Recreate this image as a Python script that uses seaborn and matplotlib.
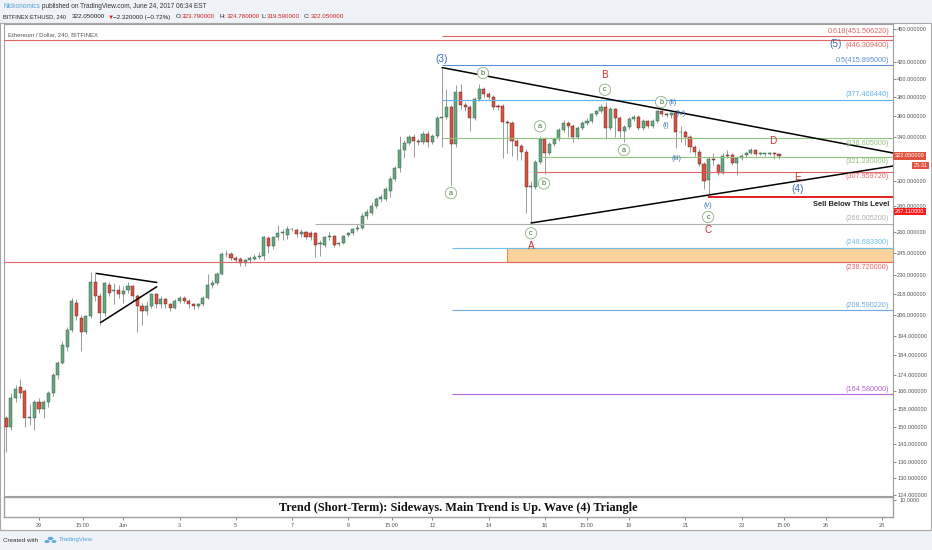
import numpy as np
import pandas as pd
import matplotlib
matplotlib.use("Agg")
import matplotlib.pyplot as plt
from matplotlib.patches import Rectangle, Circle
from matplotlib.ticker import NullLocator
import seaborn as sns

W, H = 932, 550

# --- 4h candles, BITFINEX ETHUSD, first bar 27 May 2017 20:00 ---
first_bar = "2017-05-27 20:00"
opens = [154, 150, 163, 168, 166, 154, 154, 161, 158, 161, 165, 174, 180, 188, 197, 213, 204, 196, 205, 226,
         217, 207, 224, 220, 221, 218, 221, 223, 217, 211, 208, 211, 218, 212, 215, 212, 210, 214, 216, 214,
         212, 211, 212, 216, 224, 225, 231, 244, 244, 241.5, 241, 238.5, 240, 241, 242.5, 243, 255.5, 250, 256, 259,
         258, 262, 261.5, 258.5, 260, 259, 259, 251.5, 250.5, 256, 257, 251, 252, 257.5, 259, 262, 263, 272, 274, 280,
         285, 285, 292, 302, 311, 327, 334, 340, 336, 335, 343, 335, 341, 358, 359, 370, 333, 385, 372, 370,
         358, 378, 389, 383, 380, 371, 371, 354, 353, 336, 331, 326, 295, 295, 317, 338, 325, 333, 338, 346,
         353, 350, 340, 348, 353, 355, 362, 365, 370, 348, 368, 358, 345, 349, 357, 359, 348, 355, 350, 355,
         365, 362, 361, 363, 344, 344, 340, 330, 326, 315, 301, 319, 314, 307, 323, 323, 316, 320, 323, 325,
         327, 324, 324, 324, 325, 323.79]
highs = [155, 165, 169, 172, 167, 160, 162, 163, 162, 166, 175, 181, 191, 199, 216, 215, 206, 206, 232, 232,
         219, 226, 226, 225, 224, 223, 226, 224, 218, 213, 214, 219, 219, 217, 216, 213, 215, 217, 217, 215,
         213, 213, 217, 231, 227, 232, 246, 247, 246, 243, 242, 241, 243, 244, 246, 257, 257, 257, 265, 262,
         264, 263, 263, 262, 261, 261, 260, 254, 257, 260, 258, 253, 258, 260, 263, 266, 274, 277, 283, 287,
         289, 295, 304, 313, 341, 337, 342, 343, 338, 345, 345, 343, 360, 413, 389, 372, 393, 394, 375, 372,
         380, 394, 391, 385, 382, 373, 373, 356, 355, 338, 333, 328, 300, 318, 341, 340, 335, 340, 348, 356,
         355, 352, 350, 355, 358, 363, 366, 373, 375, 370, 369, 360, 351, 359, 361, 361, 357, 356, 357, 367,
         366, 363, 364, 366, 350, 346, 342, 332, 328, 317, 321, 325, 316, 325, 327, 325, 322, 324, 326, 329,
         328, 326, 325, 326, 326, 324.78]
lows = [140, 149, 161, 163, 150, 151, 149, 156, 154, 159, 164, 172, 179, 186, 196, 203, 186, 195, 204, 214,
        200, 205, 217, 212, 216, 213, 219, 214, 196, 200, 206, 210, 210, 210, 210, 208, 209, 213, 213, 210,
        209, 210, 211, 215, 222, 224, 230, 242, 240, 239, 236, 236, 238, 240, 241, 240, 245, 248, 254, 254,
        255, 261, 256, 256, 255, 254, 242, 243, 249, 254, 249, 250, 251, 256, 258, 261, 262, 270, 273, 278,
        283, 284, 287, 300, 308, 320, 332, 321, 332, 333, 330, 333, 339, 330, 357, 297, 330, 368, 365, 345,
        356, 376, 380, 378, 367, 366, 320, 325, 322, 318, 318, 274, 267, 293, 315, 306, 323, 331, 336, 344,
        340, 335, 338, 346, 351, 353, 360, 363, 338, 346, 340, 340, 335, 347, 355, 346, 346, 348, 348, 353,
        360, 359, 358, 329, 335, 332, 326, 322, 313, 293, 289, 314, 305, 306, 320, 314, 305, 318, 321, 324,
        322, 323, 322, 323, 319, 319.59]
closes = [150, 163, 167, 165, 154, 154.5, 161, 158, 161, 165, 174, 180, 189, 197, 214, 205, 196, 205, 226, 217,
          207, 225, 219, 220.5, 218, 220, 223, 217, 211, 208, 211, 218, 212, 215, 212, 210, 214, 216, 214, 212,
          211, 212, 216, 224, 225, 231, 244, 244.5, 241.5, 240.5, 238, 240, 241.5, 242.5, 243, 256, 250, 256, 259.5, 260,
          262, 262.3, 258.5, 260, 256.5, 256, 250.5, 251.8, 256, 257, 250.5, 252, 257, 259, 262, 263, 272, 275, 280, 285,
          287, 293, 302, 311, 327, 334, 340, 336, 335, 343, 335, 341, 358, 359, 370, 333, 385, 372, 370, 358,
          378, 389, 383, 380, 370, 370, 354, 353, 336, 331, 326, 295, 295.5, 317, 338, 325, 333, 338, 346, 353,
          350, 340, 348, 353, 355, 362, 365, 370, 348, 368, 358, 345, 349, 357, 359, 348, 355, 350, 355, 365,
          362, 361, 363, 344, 344.5, 340, 330, 326, 315, 300, 319, 318, 307, 322, 322, 316, 320, 322, 325, 327,
          324, 324.5, 324, 325, 323.8, 322.05]

# time axis labels, in days after 29 May 00:00
tick_days = [0, 1.55, 3, 5, 7, 9, 11, 12.56, 14, 16, 18, 19.5, 21, 23, 25, 26.5, 28, 30]
tick_text = ["29", "15:00", "Jun", "3", "5", "7", "9", "15:00", "12", "14", "16", "15:00",
             "19", "21", "23", "15:00", "26", "28"]

price_ticks = [460, 420, 400, 380, 360, 340, 300, 280, 260, 245, 230, 218, 206, 194,
               184, 174, 166, 158, 150, 143, 136, 130, 124]

# horizontal levels drawn on the chart
level_prices = [451.50622, 446.3094, 415.895, 377.46844, 338.605, 321.23, 307.95972,
                287.11, 266.0052, 248.6833, 238.72, 208.59022, 164.58]
level_names = ["0.618(451.506220)", "(446.309400)", "0.5(415.895000)", "(377.468440)",
               "(338.605000)", "(321.230000)", "(307.959720)", "Sell Below This Level",
               "(266.005200)", "(248.683300)", "(238.720000)", "(208.590220)", "(164.580000)"]
level_from = [14.34, -1.3, 14.34, 14.34, 14.34, 17.83, 17.65, 23.81, 9.82, 14.70, -1.3, 14.70, 14.70]

# orange zone
zone_low, zone_high, zone_from = 238.72, 248.6833, 16.65

# triangle trend lines (day, price)
big_upper = [(14.34, 413), (30.39, 324.7)]
big_lower = [(17.51, 266.6), (30.39, 313)]
small_upper = [(2.05, 231.3), (4.19, 225.5)]
small_lower = [(2.20, 201.5), (4.19, 222.8)]

# wave labels (text, day, price)
major_waves = [("(3)", 14.31, 423), ("(5)", 28.36, 441), ("(4)", 26.98, 293.4)]
abc_waves = [("B", 20.14, 404), ("A", 17.51, 249.8), ("C", 23.80, 261.4),
             ("D", 26.12, 335.8), ("E", 26.98, 303.5)]
minor_waves = [("a", 14.66, 290), ("b", 15.80, 406.7), ("a", 17.83, 350), ("b", 17.97, 298),
               ("c", 17.51, 259), ("c", 20.14, 388), ("a", 20.82, 327.4), ("b", 22.14, 374.8),
               ("c", 23.81, 271.1)]
sub_waves = [("(ii)", 22.55, 374.8), ("(i)", 22.31, 351), ("(iv)", 22.83, 363.4),
             ("(iii)", 22.67, 320), ("(v)", 23.81, 280.4)]


def main():
    sns.set_theme(style="white")
    plt.rcParams['font.family'] = ['Liberation Sans', 'DejaVu Sans']

    fig = plt.figure(figsize=(W / 100, H / 100), dpi=100, facecolor='#eff2f6')

    def fx(x):
        return x / W

    def fy(y):
        return 1 - y / H

    # white chart block behind the panes
    fig.patches.append(Rectangle((0, fy(530)), fx(931), fy(23) - fy(530), transform=fig.transFigure,
                                 fc='white', ec='#a8a8a8', lw=0.8, zorder=-5))

    ax = fig.add_axes([fx(4), fy(496), fx(889), fy(24) - fy(496)])
    bax = fig.add_axes([fx(4), fy(517), fx(889), fy(497) - fy(517)])
    ax.set_facecolor('white')
    bax.set_facecolor('white')

    times = pd.date_range(first_bar, periods=len(closes), freq="4h")
    days = ((times - pd.Timestamp("2017-05-29")) / pd.Timedelta(days=1)).to_numpy()
    o = np.array(opens); c = np.array(closes)
    up = c >= o
    body_col = np.where(up, '#6ba583', '#d75442')
    edge_col = np.where(up, '#225437', '#5b1a13')

    ax.vlines(days, lows, highs, color='#8a8a8a', lw=0.6, zorder=2)
    hgt = np.where(np.abs(c - o) < 0.4, 0.4, c - o)
    ax.bar(days, hgt, bottom=o, width=0.11, color=body_col, edgecolor=edge_col, lw=0.3, zorder=3)

    ax.set_yscale('log')
    xl = (-1.2456, 30.391)
    ax.set_xlim(*xl)
    ax.set_ylim(123.6, 466.9)
    ax.yaxis.tick_right()
    ax.yaxis.set_minor_locator(NullLocator())
    ax.set_yticks(price_ticks)
    ax.set_yticklabels([f"{p:.6f}" for p in price_ticks])
    ax.tick_params(axis='y', which='major', length=2, width=0.5, pad=1, labelsize=4.1,
                   colors='#555555', right=True)
    ax.set_xticks([])
    for s in ax.spines.values():
        s.set_color('#a0a0a0'); s.set_linewidth(0.8)

    # horizontal levels
    lvl_color = ['#e06666', '#e06666', '#5b8fd6', '#5fb3e6', '#93c47d', '#93c47d', '#e06666',
                 '#e02020', '#b0b0b0', '#6fc0e8', '#e06666', '#6fa8dc', '#b565d9']
    lvl_above = [True, False, True, True, False, False, False, False, True, True, False, True, True]
    lvl_lw = [0.8] * len(level_prices)
    lvl_lw[7] = 1.4
    xr = 30.25
    for p, name, x0, col, above, lw in zip(level_prices, level_names, level_from, lvl_color, lvl_above, lvl_lw):
        ax.hlines(p, x0, xl[1], color=col, lw=lw, zorder=4)
        if name.startswith("Sell"):
            ax.annotate(name, (xr, p), xytext=(0, -3), textcoords='offset points', ha='right', va='top',
                        fontsize=5.4, fontweight='bold', color='#222222', zorder=6)
        else:
            ax.annotate(name, (xr, p), xytext=(0, 1 if above else -1.2), textcoords='offset points',
                        ha='right', va='bottom' if above else 'top', fontsize=5.2, color=col, zorder=6)

    ax.add_patch(Rectangle((zone_from, zone_low), xl[1] - zone_from, zone_high - zone_low,
                           fc='#fcd49b', ec='#e69138', lw=0.8, zorder=3.5))

    for seg in (big_upper, big_lower, small_upper, small_lower):
        ax.plot([seg[0][0], seg[1][0]], [seg[0][1], seg[1][1]], color='black', lw=1.1, zorder=5)

    for t, d, p in major_waves:
        ax.text(d, p, t, color='#3c6eb4', fontsize=7.2, ha='center', va='center', zorder=7)
    for t, d, p in abc_waves:
        ax.text(d, p, t, color='#d0302a', fontsize=7.2, ha='center', va='center', zorder=7)
    for t, d, p in sub_waves:
        ax.text(d, p, t, color='#3c6eb4', fontsize=5.2, ha='center', va='center', zorder=7)
    for t, d, p in minor_waves:
        ax.text(d, p, t, color='#3d6b2f', fontsize=5.2, ha='center', va='center', zorder=7,
                bbox=dict(boxstyle='circle,pad=0.3', fc='white', ec='#8ab07e', lw=0.6))

    ax.text(0.004, 0.978, "Ethereum / Dollar, 240, BITFINEX", transform=ax.transAxes,
            fontsize=4.3, color='#555555', ha='left', va='center')

    # price tags on the axis
    ax.text(1.002, 322.05, "322.050000", transform=ax.get_yaxis_transform(), fontsize=4.1,
            color='white', ha='left', va='center', zorder=8,
            bbox=dict(boxstyle='square,pad=0.25', fc='#e0533f', ec='none'))
    fig.text(fx(928), fy(165.5), "25:31", fontsize=4.1, color='white', ha='right', va='center',
             bbox=dict(boxstyle='square,pad=0.25', fc='#e0533f', ec='none'))
    fig.text(fx(895), fy(211.5), "287.110000", fontsize=4.1, color='white', ha='left', va='center',
             bbox=dict(boxstyle='square,pad=0.25', fc='#ff1a1a', ec='none'))

    # bottom pane with the comment
    bax.set_xlim(*xl)
    bax.set_ylim(0, 12)
    bax.yaxis.tick_right()
    bax.set_yticks([10])
    bax.set_yticklabels(["10.0000"])
    bax.set_xticks(tick_days)
    bax.set_xticklabels(tick_text)
    bax.tick_params(axis='both', length=2, width=0.5, pad=2.5, labelsize=4.0, colors='#555555',
                    bottom=True, right=True)
    for s in bax.spines.values():
        s.set_color('#a0a0a0'); s.set_linewidth(1.0)
    bax.text((458 - 4) / 889, 0.45, "Trend (Short-Term): Sideways. Main Trend is Up. Wave (4) Triangle",
             transform=bax.transAxes, ha='center', va='center', fontsize=8.8, fontweight='bold',
             family=['Liberation Serif', 'DejaVu Serif'], color='#111111')

    # header
    fig.text(fx(3), fy(6.5), "Nickonomics", fontsize=4.7, color='#4fa3d9', ha='left', va='center')
    fig.text(fx(42), fy(6.5), "published on TradingView.com, June 24, 2017 06:34 EST", fontsize=4.7,
             color='#333333', ha='left', va='center')
    header2 = [(3, "BITFINEX:ETHUSD, 240", '#222222'), (72, "322.050000", '#222222'),
               (108, "\u25bc", '#d02020'), (113, "\u22122.320000 (\u22120.72%)", '#222222'),
               (176, "O:", '#222222'), (182, "323.790000", '#d02020'),
               (220, "H:", '#222222'), (227, "324.780000", '#d02020'),
               (262, "L:", '#222222'), (267, "319.590000", '#d02020'),
               (304, "C:", '#222222'), (311, "322.050000", '#d02020')]
    for x, s, col in header2:
        fig.text(fx(x), fy(17), s, fontsize=4.5 if x > 3 else 4.1, color=col, ha='left', va='center')

    # footer
    fig.text(fx(3), fy(540), "Created with", fontsize=4.5, color='#333333', ha='left', va='center')
    for cx, cy, r in [(47, 541.5, 2.6), (50.5, 538.5, 2.9), (54, 541.5, 2.4)]:
        fig.patches.append(Circle((fx(cx), fy(cy)), r / W, transform=fig.transFigure,
                                  fc='#5aa9dd', ec='none'))
    fig.text(fx(59), fy(540), "TradingView", fontsize=4.5, color='#4fa3d9', ha='left', va='center')

    fig.savefig("out.png", dpi=100, facecolor=fig.get_facecolor())


if __name__ == "__main__":
    main()
